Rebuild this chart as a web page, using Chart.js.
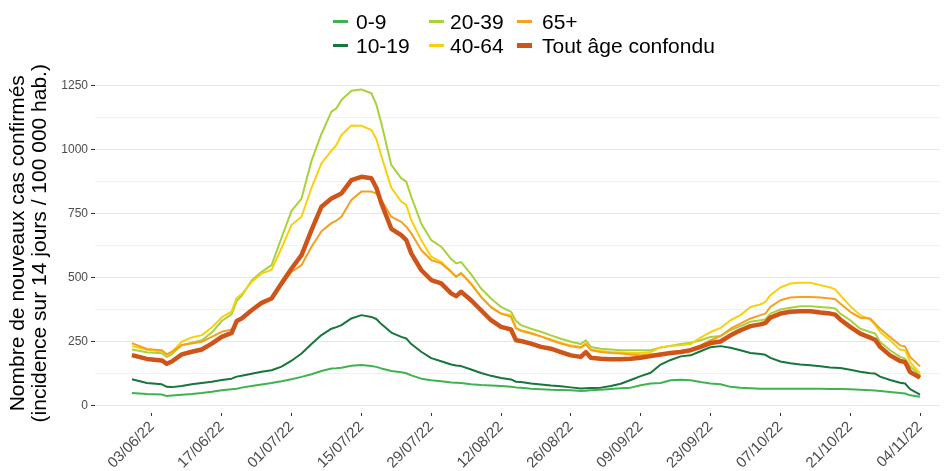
<!DOCTYPE html>
<html><head><meta charset="utf-8">
<script src="https://cdn.jsdelivr.net/npm/chart.js@4/dist/chart.umd.min.js"></script>
<style>
html,body{margin:0;padding:0;background:#fff;}
#wrap{position:relative;width:945px;height:471px;overflow:hidden;}
#c{position:absolute;left:0;top:0;}
.key{position:absolute;width:15px;}
.lab{position:absolute;font-family:'Liberation Sans',Arial,sans-serif;font-size:21px;line-height:21px;color:#000;white-space:nowrap;}
</style></head>
<body><div id="wrap"><canvas id="c" width="945" height="471"></canvas><div id="legend"></div></div>
<script>
// day 0 = 30/05/22
const sampleDays = [0,3,6,7,8,10,12,14,16,18,20,21,22,24,26,28,30,32,34,36,38,40,41,42,44,46,48,49,50,52,54,55,56,58,60,62,64,65,66,68,70,72,74,76,77,78,80,82,84,86,88,90,91,92,94,96,98,100,102,104,106,108,110,112,114,116,118,120,122,124,126,127,128,130,132,134,136,138,140,141,142,144,146,148,149,150,152,154,155,156,158];
const tickDays = [4,18,32,46,60,74,88,102,116,130,144,158];
const tickLabels = ['03/06/22','17/06/22','01/07/22','15/07/22','29/07/22','12/08/22','26/08/22','09/09/22','23/09/22','07/10/22','21/10/22','04/11/22'];
const yMajor = [0,250,500,750,1000,1250];
const yMinor = [125,375,625,875,1125];

const seriesNames = ['0-9','10-19','20-39','40-64','65+','Tout âge confondu'];
const seriesColors = ['#3fb34f','#17763c','#a9d13c','#f7d10f','#f5a01e','#cf5419'];

const v09 = [49,45,43,37,39, 42,45,49,54,60, 64,66,70,76,82, 88,95,103,112,122, 135,145,146,148,155, 158,154,151,145,135, 130,126,118,105,99, 95,90,89,88,83, 80,78,76,73,71, 70,66,64,62,61, 60,57,58,60,62, 65,68,70,79,86, 88,99,101,99,92, 86,83,73,70,68, 66,66,66,66,66, 66,66,66,65,65, 65,64,62,60,59, 57,53,49,47,40, 34];
const v1019 = [103,88,83,73,72, 76,83,88,93,100, 105,113,116,124,132, 138,152,175,203,240, 275,300,306,314,340, 353,346,338,318,285, 268,262,240,210,185, 173,160,156,154,141, 127,116,108,102,93, 92,86,82,78,75, 71,67,68,69,70, 76,85,100,115,128, 160,178,192,196,212, 228,232,226,216,205, 201,198,186,172,165, 160,157,153,149,148, 147,140,132,126,125, 113,100,89,86,64, 43];
const v2039 = [219,208,204,190,200, 236,245,255,285,330, 357,408,428,488,522, 548,655,760,808,955, 1060,1147,1160,1193,1229, 1234,1219,1175,1102,939, 887,874,815,711,646, 620,572,555,560,512, 457,418,385,366,330, 314,300,288,274,261, 249,240,255,229,222, 219,216,216,216,216, 227,233,240,245,255, 268,272,294,310,327, 333,337,359,375,382, 388,388,385,382,379, 359,333,300,287,281, 248,216,190,183,153, 118];
const v4064 = [232,218,212,198,208, 249,266,275,305,344, 368,420,435,482,515, 530,615,705,737,850, 945,995,1017,1056,1093, 1092,1076,1040,975,850, 796,783,724,646,581, 561,522,503,518,477, 424,385,359,353,303, 294,284,270,258,244, 235,229,244,219,213, 209,207,205,205,209, 227,233,235,240,265, 287,303,333,353,385, 395,405,431,461,476, 479,479,470,461,453, 431,388,353,336,314, 287,255,218,216,170, 125];
const v65 = [243,221,216,200,210, 236,242,249,268,288, 297,327,340,372,398, 418,470,522,548,620, 680,712,722,737,802, 835,835,828,802,737, 717,698,672,607,568, 555,522,503,516,474, 424,383,359,346,301, 292,281,270,255,242, 231,226,239,216,209, 205,203,199,196,200, 203,207,209,219,235, 255,271,300,320,340, 353,359,385,411,422, 424,424,422,418,415, 398,366,343,340,320, 300,268,235,231,190, 153];
const vAll = [197,182,176,163,172, 200,210,219,242,268, 284,330,340,372,401, 418,477,535,587,685, 776,808,818,828,880, 893,887,850,790,690, 665,646,594,529,490, 477,438,427,444,411, 372,333,307,297,255, 252,242,229,222,209, 196,190,209,187,183, 181,181,183,187,193, 199,205,209,216,229, 244,250,274,294,310, 317,323,343,359,366, 368,368,363,359,355, 336,307,281,265,257, 229,196,174,170,131, 109];

const seriesValues = [v09, v1019, v2039, v4064, v65, vAll];
const lineWidths = [2, 2, 2, 2, 2, 4.5];
const drawOrder = [5, 4, 3, 2, 1, 0];

const datasets = seriesNames.map((name, i) => ({
  label: name,
  data: sampleDays.map((d, k) => ({x: d, y: seriesValues[i][k]})),
  borderColor: seriesColors[i],
  backgroundColor: seriesColors[i],
  borderWidth: lineWidths[i],
  pointRadius: 0,
  tension: 0,
  borderJoinStyle: 'round',
  order: drawOrder[i]
}));

const tickFont = {family: "'Liberation Sans', Arial, sans-serif"};

new Chart(document.getElementById('c'), {
  type: 'line',
  data: {datasets},
  options: {
    responsive: false,
    animation: false,
    layout: {padding: {top: 73.5, right: 5, left: 0, bottom: 0}},
    plugins: {legend: {display: false}, tooltip: {enabled: false}},
    scales: {
      x: {
        type: 'linear', min: -7.4, max: 162,
        afterBuildTicks: (axis) => { axis.ticks = tickDays.map(v => ({value: v})); },
        afterFit: (scale) => { scale.height = 58; },
        border: {display: false},
        grid: {drawOnChartArea: false, drawTicks: true, tickLength: 3, tickColor: '#333333', tickWidth: 1},
        ticks: {
          autoSkip: false, minRotation: 45, maxRotation: 45, padding: 2,
          color: '#4d4d4d', font: {...tickFont, size: 15},
          callback: (value) => tickLabels[tickDays.indexOf(value)]
        }
      },
      y: {
        type: 'linear', min: -29, max: 1296,
        afterBuildTicks: (axis) => {
          axis.ticks = yMajor.concat(yMinor).sort((a, b) => a - b).map(v => ({value: v}));
        },
        afterFit: (scale) => { scale.width = 95; },
        border: {display: false},
        grid: {
          drawTicks: true, tickLength: 4,
          color: (ctx) => yMajor.includes(ctx.tick && ctx.tick.value) ? '#e6e6e6' : '#f1f1f1',
          tickColor: (ctx) => yMajor.includes(ctx.tick && ctx.tick.value) ? '#333333' : 'rgba(0,0,0,0)',
          lineWidth: 1
        },
        ticks: {
          autoSkip: false, padding: 3, color: '#4d4d4d', font: {...tickFont, size: 12},
          callback: (value) => yMajor.includes(value) ? String(value) : ''
        },
        title: {
          display: true,
          text: ['Nombre de nouveaux cas confirmés', '(incidence sur 14 jours / 100 000 hab.)'],
          color: '#000', font: {...tickFont, size: 21, lineHeight: 1.05}, padding: {top: 7, bottom: 0}
        }
      }
    }
  }
});

// Legend (2 rows x 3 columns, column-major like the original)
const legendCols = [[0, 1], [2, 3], [4, 5]];
const keyX = [333, 429, 517];
const textX = [356, 450, 542];
const rowY = [21, 45];
const leg = document.getElementById('legend');
legendCols.forEach((col, ci) => {
  col.forEach((si, ri) => {
    const k = document.createElement('div');
    k.className = 'key';
    const h = si === 5 ? 5 : 3;
    k.style.left = keyX[ci] + 'px';
    k.style.top = (rowY[ri] - h / 2) + 'px';
    k.style.height = h + 'px';
    k.style.background = seriesColors[si];
    leg.appendChild(k);
    const t = document.createElement('div');
    t.className = 'lab';
    t.textContent = seriesNames[si];
    t.style.left = textX[ci] + 'px';
    t.style.top = (rowY[ri] - 10.5) + 'px';
    leg.appendChild(t);
  });
});
</script>
</body></html>
